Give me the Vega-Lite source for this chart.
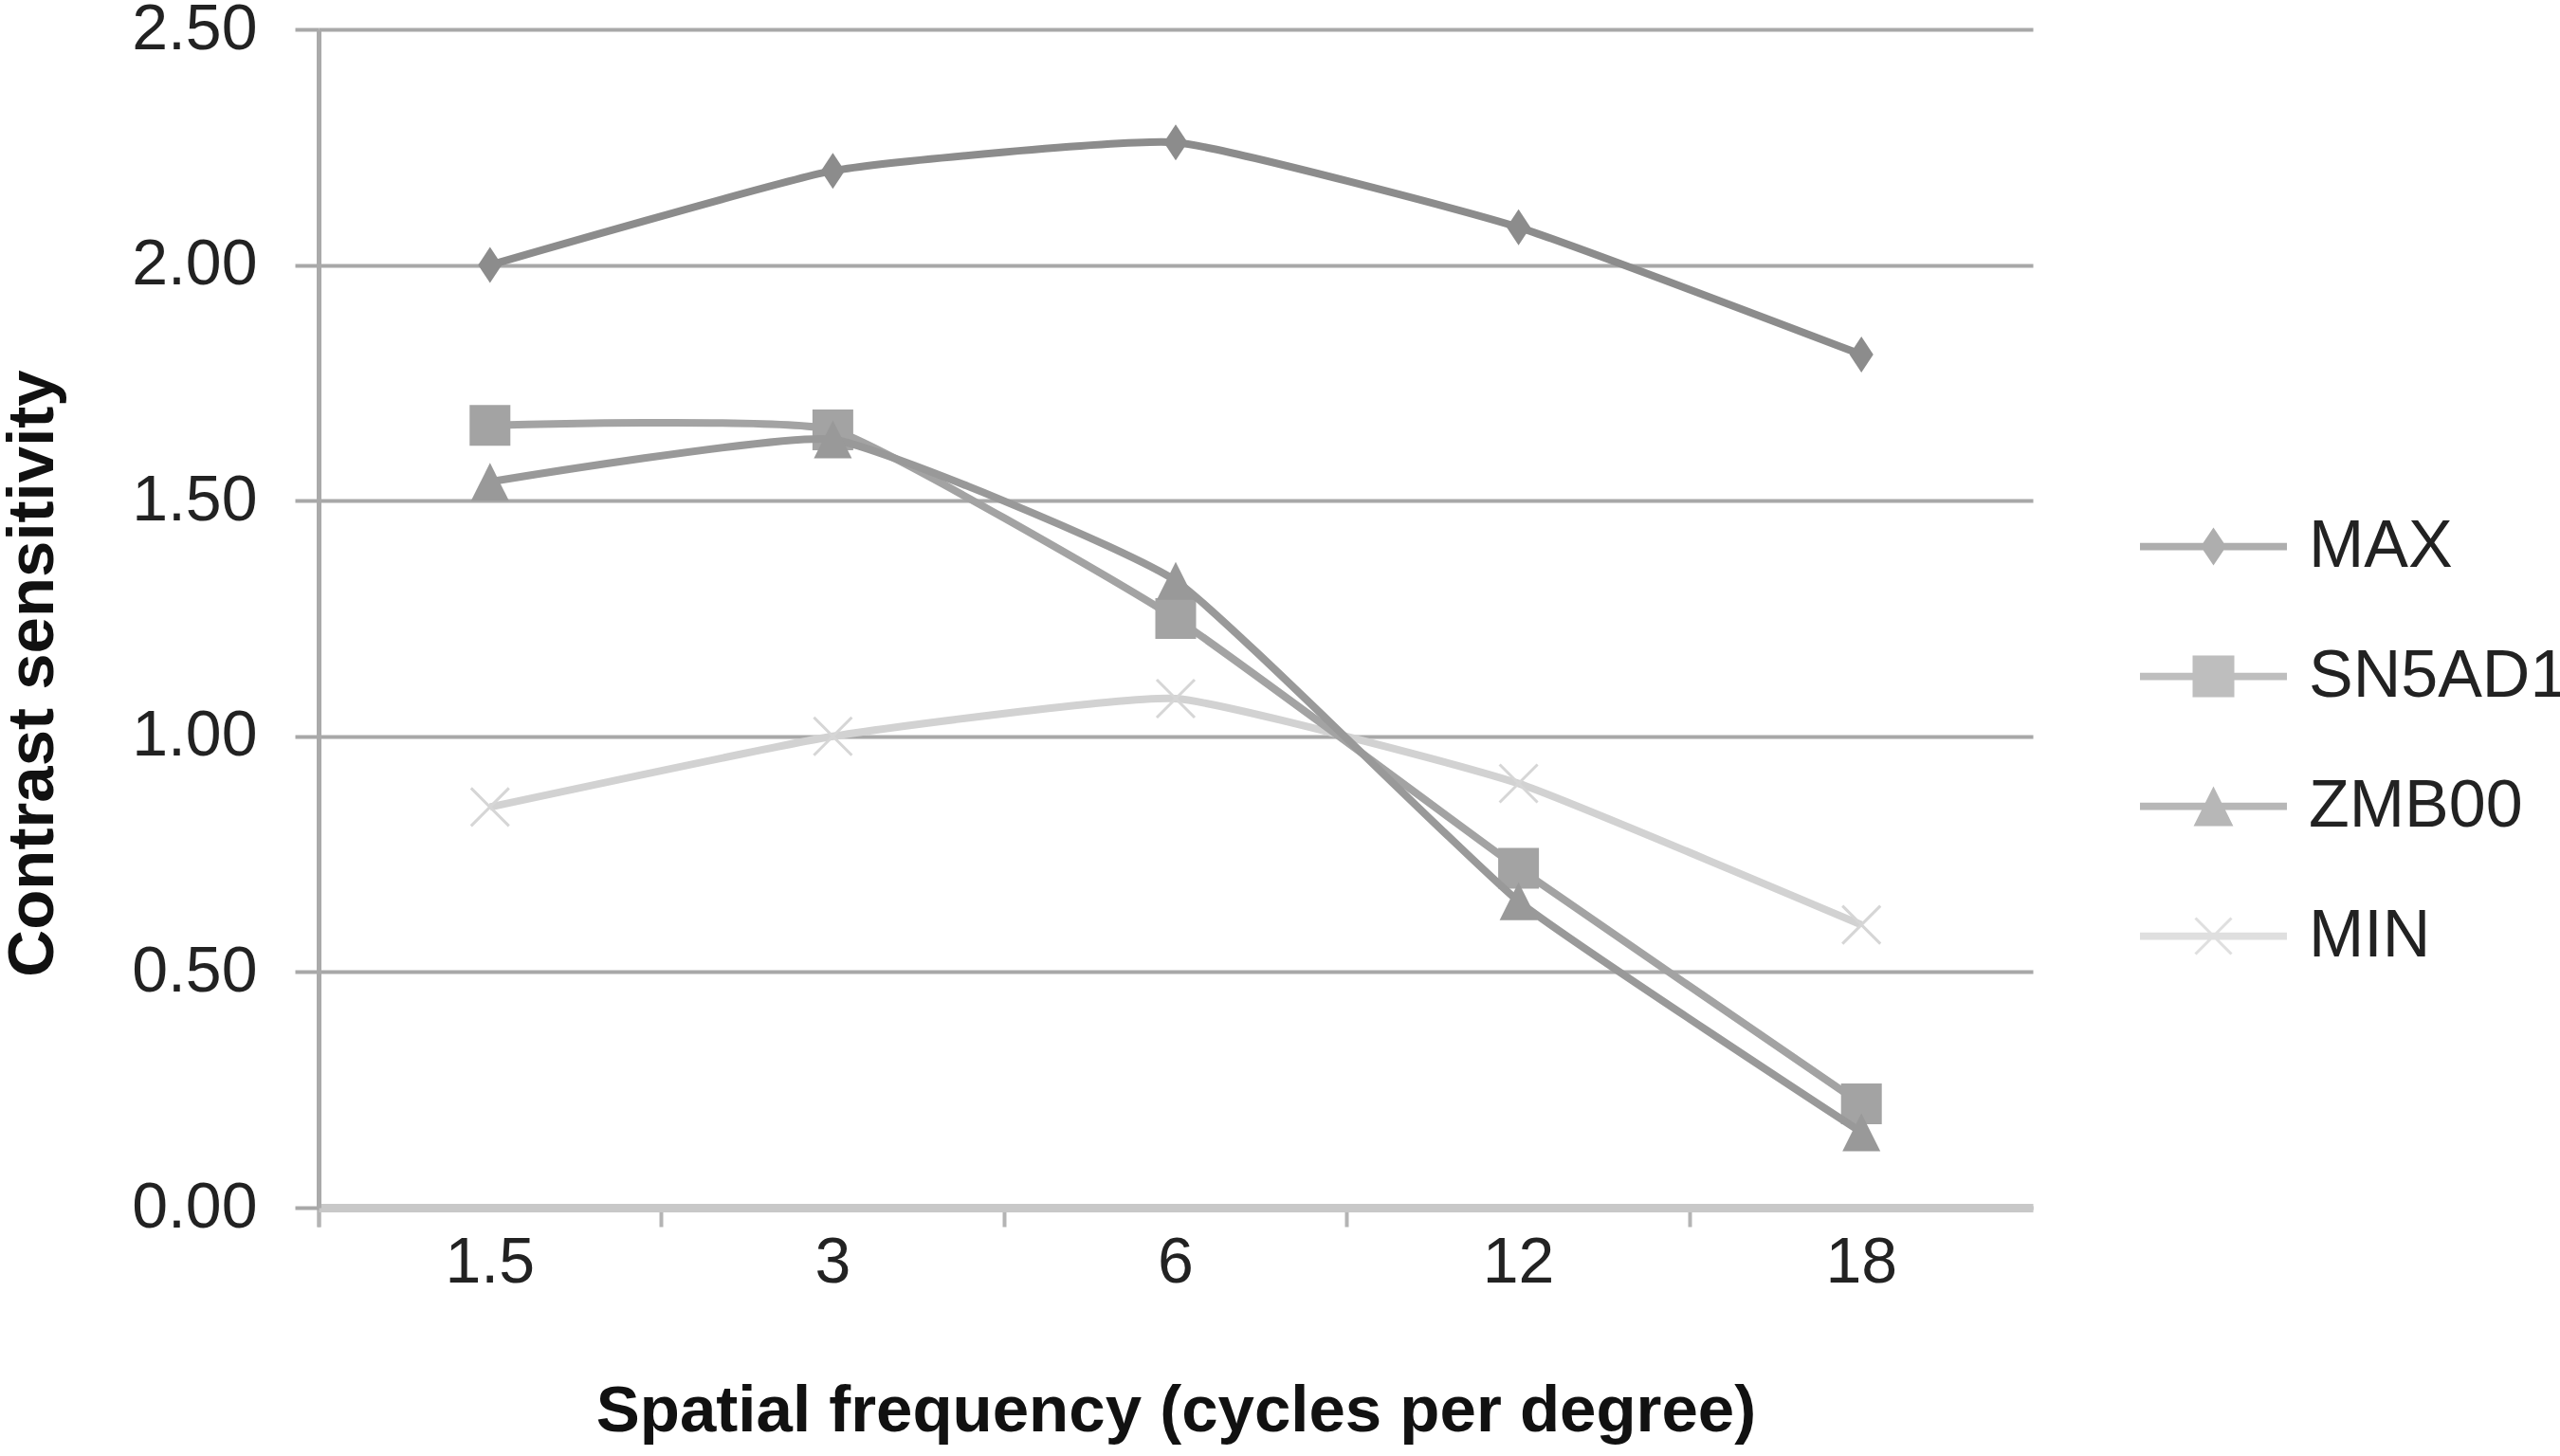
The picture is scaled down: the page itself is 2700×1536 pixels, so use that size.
{
  "$schema": "https://vega.github.io/schema/vega-lite/v6.json",
  "width": 1808,
  "height": 1243,
  "autosize": {"type": "none"},
  "padding": {"left": 336, "top": 31, "right": 556, "bottom": 262},
  "background": "white",
  "config": {
    "view": {"stroke": null},
    "font": "Liberation Sans"
  },
  "data": {
    "values": [
      {"series": "MAX", "freq": "1.5", "value": 2.00},
      {"series": "MAX", "freq": "3", "value": 2.20},
      {"series": "MAX", "freq": "6", "value": 2.26},
      {"series": "MAX", "freq": "12", "value": 2.08},
      {"series": "MAX", "freq": "18", "value": 1.81},
      {"series": "SN5AD1", "freq": "1.5", "value": 1.66},
      {"series": "SN5AD1", "freq": "3", "value": 1.65},
      {"series": "SN5AD1", "freq": "6", "value": 1.25},
      {"series": "SN5AD1", "freq": "12", "value": 0.72},
      {"series": "SN5AD1", "freq": "18", "value": 0.22},
      {"series": "ZMB00", "freq": "1.5", "value": 1.54},
      {"series": "ZMB00", "freq": "3", "value": 1.63},
      {"series": "ZMB00", "freq": "6", "value": 1.33},
      {"series": "ZMB00", "freq": "12", "value": 0.65},
      {"series": "ZMB00", "freq": "18", "value": 0.16},
      {"series": "MIN", "freq": "1.5", "value": 0.85},
      {"series": "MIN", "freq": "3", "value": 1.00},
      {"series": "MIN", "freq": "6", "value": 1.08},
      {"series": "MIN", "freq": "12", "value": 0.90},
      {"series": "MIN", "freq": "18", "value": 0.60}
    ]
  },
  "encoding": {
    "x": {
      "field": "freq",
      "type": "ordinal",
      "sort": ["1.5", "3", "6", "12", "18"],
      "scale": {"type": "band", "paddingInner": 0, "paddingOuter": 0},
      "axis": {
        "title": "Spatial frequency (cycles per degree)",
        "labelAngle": 0,
        "labelFontSize": 68,
        "labelColor": "#222222",
        "labelFont": "Liberation Sans",
        "labelPadding": 4,
        "bandPosition": 0,
        "tickExtra": true,
        "ticks": true,
        "tickSize": 20,
        "tickColor": "#b4b4b4",
        "tickWidth": 4,
        "domainColor": "#c8c8c8",
        "domainWidth": 9,
        "grid": false,
        "titleFontSize": 69,
        "titleFont": "Liberation Sans",
        "titleFontWeight": "bold",
        "titleColor": "#111111",
        "titlePadding": 88
      }
    },
    "y": {
      "field": "value",
      "type": "quantitative",
      "scale": {"domain": [0, 2.5], "nice": false, "zero": true},
      "axis": {
        "title": "Contrast sensitivity",
        "values": [0, 0.5, 1, 1.5, 2, 2.5],
        "format": ".2f",
        "labelFontSize": 68,
        "labelColor": "#222222",
        "labelFont": "Liberation Sans",
        "labelPadding": 40,
        "tickSize": 25,
        "tickColor": "#a8a8a8",
        "tickWidth": 4,
        "domainColor": "#aaaaaa",
        "domainWidth": 5,
        "grid": true,
        "gridColor": "#a8a8a8",
        "gridWidth": 4,
        "titleFontSize": 69,
        "titleFont": "Liberation Sans",
        "titleFontWeight": "bold",
        "titleColor": "#111111",
        "titleX": -302,
        "titleY": 679,
        "titleAlign": "center",
        "titleBaseline": "middle",
        "titleAngle": -90
      }
    }
  },
  "layer": [
    {
      "transform": [{"filter": "datum.series == 'MIN'"}],
      "mark": {
        "type": "line",
        "color": "#d2d2d2",
        "strokeWidth": 8,
        "interpolate": "cardinal",
        "tension": 0.6,
        "point": {"shape": "M-1,-1L1,1M1,-1L-1,1", "filled": false, "size": 1600, "strokeWidth": 3, "color": "#d6d6d6"}
      }
    },
    {
      "transform": [{"filter": "datum.series == 'SN5AD1'"}],
      "mark": {
        "type": "line",
        "color": "#a3a3a3",
        "strokeWidth": 8,
        "interpolate": "cardinal",
        "tension": 0.6,
        "point": {"shape": "square", "filled": true, "size": 1849, "color": "#a3a3a3"}
      }
    },
    {
      "transform": [{"filter": "datum.series == 'ZMB00'"}],
      "mark": {
        "type": "line",
        "color": "#999999",
        "strokeWidth": 8,
        "interpolate": "cardinal",
        "tension": 0.6,
        "point": {"shape": "M0,-1L1,1L-1,1Z", "filled": true, "size": 1600, "color": "#999999"}
      }
    },
    {
      "transform": [{"filter": "datum.series == 'MAX'"}],
      "mark": {
        "type": "line",
        "color": "#8c8c8c",
        "strokeWidth": 8,
        "interpolate": "cardinal",
        "tension": 0.6,
        "point": {"shape": "M0,-1L0.66,0L0,1L-0.66,0Z", "filled": true, "size": 1444, "color": "#8c8c8c"}
      }
    },
    {
      "transform": [{"filter": "datum.value < -100"}],
      "mark": {"type": "point", "filled": true, "size": 24025, "strokeWidth": 0},
      "encoding": {
        "color": {
          "field": "series",
          "type": "nominal",
          "scale": {"domain": ["MAX", "SN5AD1", "ZMB00", "MIN"], "range": ["#8c8c8c", "#a3a3a3", "#999999", "#d2d2d2"]},
          "legend": {
            "title": null,
            "orient": "none",
            "legendX": 1921,
            "legendY": 477,
            "padding": 0,
            "rowPadding": 0,
            "clipHeight": 137,
            "symbolSize": 24025,
            "symbolStrokeWidth": 0,
            "labelFontSize": 70,
            "labelFont": "Liberation Sans",
            "labelColor": "#222222",
            "labelOffset": 23,
            "labelLimit": 0
          }
        },
        "shape": {
          "field": "series",
          "type": "nominal",
          "scale": {
            "domain": ["MAX", "SN5AD1", "ZMB00", "MIN"],
            "range": [
              "M-1,-0.05H1V0.05H-1Z M0,-0.258L0.174,0L0,0.258L-0.174,0Z",
              "M-1,-0.05H1V0.05H-1Z M-0.284,-0.284H0.284V0.284H-0.284Z",
              "M-1,-0.05H1V0.05H-1Z M0,-0.27L0.27,0.27L-0.27,0.27Z",
              "M-1,-0.05H1V0.05H-1Z M-0.231,-0.259L0.259,0.231L0.231,0.259L-0.259,-0.231Z M0.259,-0.231L-0.231,0.259L-0.259,0.231L0.231,-0.259Z"
            ]
          },
          "legend": {
            "title": null,
            "orient": "none",
            "legendX": 1921,
            "legendY": 477,
            "padding": 0,
            "rowPadding": 0,
            "clipHeight": 137,
            "symbolSize": 24025,
            "symbolStrokeWidth": 0,
            "labelFontSize": 70,
            "labelFont": "Liberation Sans",
            "labelColor": "#222222",
            "labelOffset": 23,
            "labelLimit": 0
          }
        }
      }
    }
  ]
}
